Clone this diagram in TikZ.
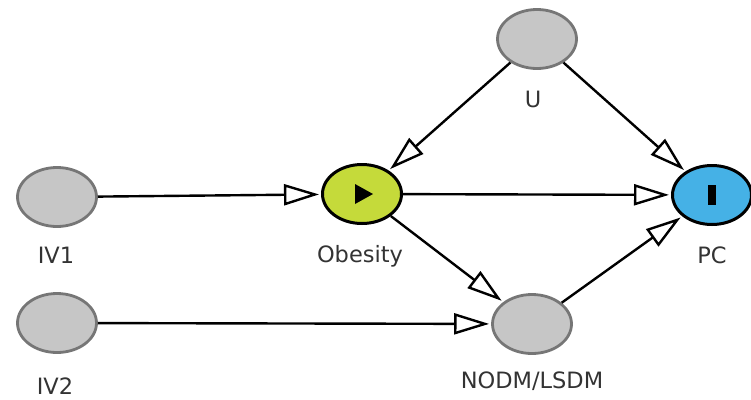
\documentclass[tikz,border=0pt]{standalone}
\usepackage{fontspec}
\setmainfont{DejaVu Sans}
\usetikzlibrary{shapes.geometric,arrows.meta}
\definecolor{nodegray}{HTML}{C6C6C6}
\definecolor{bordergray}{HTML}{767676}
\definecolor{obgreen}{HTML}{C5DA3A}
\definecolor{pcblue}{HTML}{45B1E6}
\definecolor{txtgray}{HTML}{333333}
\tikzset{
  var/.style={ellipse, draw=bordergray, fill=nodegray, line width=2.8pt, minimum width=79pt, minimum height=59pt, inner sep=0pt},
  expo/.style={var, draw=black, fill=obgreen, line width=3pt},
  outc/.style={var, draw=black, fill=pcblue, line width=3pt},
  lbl/.style={anchor=base, font=\fontsize{22.5}{26}\selectfont, text=txtgray, inner sep=0pt},
  conn/.style={line width=2.4pt, -{Triangle[open, length=35pt, width=21pt, line width=2.4pt]}, shorten >=2pt}
}
\begin{document}
\begin{tikzpicture}[x=1pt,y=-1pt]
\useasboundingbox (0,0) rectangle (751,399);
\node[var] (iv1) at (57,197) {};
\node[var] (iv2) at (57,323) {};
\node[var] (u) at (537,39) {};
\node[expo] (ob) at (362,194) {};
\node[outc] (pc) at (712,195) {};
\node[var] (nodm) at (532,324) {};
\node[lbl] (liv1) at (56,263) {IV1};
\node[lbl] (liv2) at (55,394) {IV2};
\node[lbl] (lu) at (533,107) {U};
\node[lbl] (lob) at (360,262) {Obesity};
\node[lbl] (lpc) at (712,263) {PC};
\node[lbl] (lnodm) at (532,388) {NODM/LSDM};
\fill (ob.center) ++(-7,-10) -- ++(18,10) -- ++(-18,10) -- cycle;
\fill (pc.center) ++(-4,-10) rectangle ++(8,20);
\draw[conn] (iv1) -- (ob);
\draw[conn] (ob) -- (pc);
\draw[conn] (u) -- (ob);
\draw[conn] (u) -- (pc);
\draw[conn] (ob) -- (nodm);
\draw[conn] (nodm) -- (pc);
\draw[conn] (iv2) -- (nodm);
\end{tikzpicture}
\end{document}
